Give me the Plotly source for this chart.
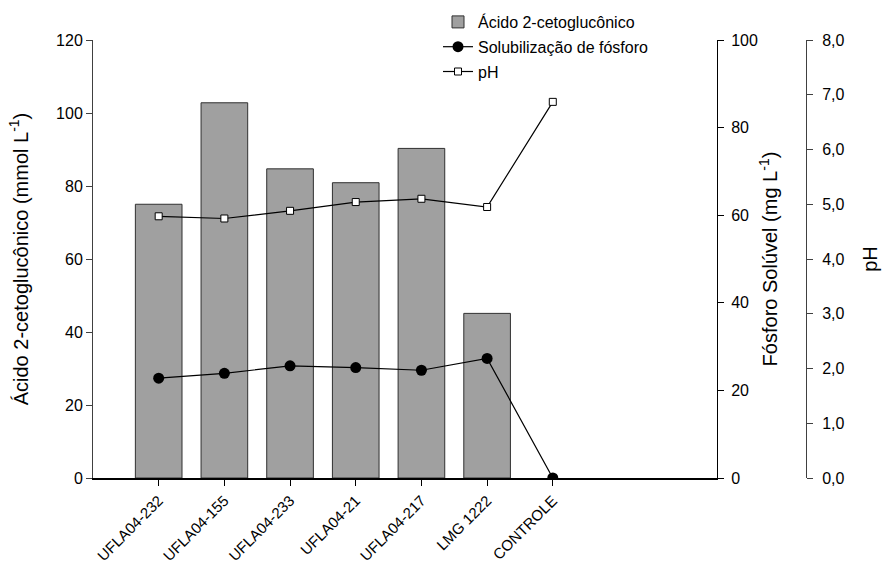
import plotly.graph_objects as go

categories = ["UFLA04-232", "UFLA04-155", "UFLA04-233", "UFLA04-21", "UFLA04-217", "LMG 1222", "CONTROLE"]
acido = [75.0, 102.8, 84.7, 80.9, 90.3, 45.1, None]
fosforo = [22.8, 23.9, 25.6, 25.2, 24.6, 27.3, 0.0]
ph = [4.78, 4.74, 4.88, 5.04, 5.10, 4.95, 6.87]
left_ticks = [0, 20, 40, 60, 80, 100, 120]
p_ticks = [0, 20, 40, 60, 80, 100]
ph_ticks = [0, 1, 2, 3, 4, 5, 6, 7, 8]
ph_labels = ["0,0", "1,0", "2,0", "3,0", "4,0", "5,0", "6,0", "7,0", "8,0"]

xidx = list(range(len(categories)))
FONT = "Liberation Sans, Arial, sans-serif"

fig = go.Figure()
fig.add_trace(go.Bar(
    x=xidx, y=acido, name="Ácido 2-cetoglucônico", width=0.71,
    marker=dict(color="#a0a0a0", line=dict(color="#303030", width=1)),
    yaxis="y", legendgroup="a",
))
fig.add_trace(go.Scatter(
    x=xidx, y=fosforo, name="Solubilização de fósforo", mode="lines+markers",
    line=dict(color="black", width=1.2),
    marker=dict(symbol="circle", size=11, color="black"),
    yaxis="y2", legendgroup="b",
))
fig.add_trace(go.Scatter(
    x=xidx, y=ph, name="pH", mode="lines+markers",
    line=dict(color="black", width=1.2),
    marker=dict(symbol="square", size=7, color="white", line=dict(color="black", width=1)),
    yaxis="y3", legendgroup="c",
))

fig.update_layout(
    width=885, height=566,
    margin=dict(l=93, r=79, t=40, b=88, autoexpand=False),
    paper_bgcolor="white", plot_bgcolor="white",
    font=dict(family=FONT, size=16, color="black"),
    showlegend=True,
    legend=dict(x=(438 - 93) / 713, y=(478 - 5) / 438, xanchor="left", yanchor="top",
                font=dict(size=16), tracegroupgap=1, bgcolor="rgba(0,0,0,0)"),
    xaxis=dict(
        domain=[0, 624 / 713], range=[-1, 8.5], automargin=False,
        tickmode="array", tickvals=xidx, ticktext=categories, tickangle=-45,
        tickfont=dict(size=15),
        showline=True, linecolor="black", linewidth=2,
        ticks="outside", ticklen=6, tickcolor="black",
        showgrid=False, zeroline=False, fixedrange=True,
    ),
    yaxis=dict(
        range=[0, 120], tickvals=left_ticks, automargin=False,
        showline=True, linecolor="#404040", linewidth=1,
        ticks="outside", ticklen=6, tickcolor="#404040",
        showgrid=False, zeroline=False,
        title=dict(text="Ácido 2-cetoglucônico (mmol L<sup>-1</sup>)", font=dict(size=20), standoff=22),
    ),
    yaxis2=dict(
        range=[0, 100], tickvals=p_ticks, overlaying="y", side="right", anchor="x", automargin=False,
        showline=True, linecolor="black", linewidth=1,
        ticks="outside", ticklen=6, tickcolor="black", ticklabelstandoff=4,
        showgrid=False, zeroline=False,
        title=dict(text="Fósforo Solúvel (mg L<sup>-1</sup>)", font=dict(size=20), standoff=6),
    ),
    yaxis3=dict(
        range=[0, 8], tickvals=ph_ticks, ticktext=ph_labels, overlaying="y", side="right",
        anchor="free", position=1.0, automargin=False,
        showline=True, linecolor="#404040", linewidth=1,
        ticks="outside", ticklen=6, tickcolor="#404040", ticklabelstandoff=6,
        showgrid=False, zeroline=False,
        title=dict(text="pH", font=dict(size=20), standoff=19),
    ),
)

fig.write_html("out.html")
